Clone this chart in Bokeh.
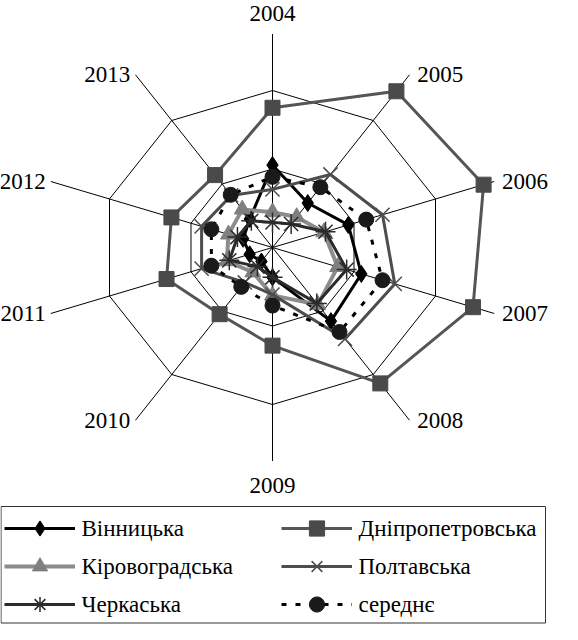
import numpy as np
from bokeh.plotting import figure
from bokeh.models import Legend, LegendItem, Range1d
from bokeh.embed import file_html
from bokeh.resources import INLINE
from bokeh.core.properties import value

# ---- data (ring spacing = 1 unit) ----
years = ["2004", "2005", "2006", "2007", "2008", "2009", "2010", "2011", "2012", "2013"]
vinnytska = [1.05, 0.70, 0.93, 1.09, 1.16, 0.38, 0.22, 0.28, 0.36, 0.45]
dnipro = [1.78, 2.46, 2.59, 2.46, 2.14, 1.25, 1.05, 1.30, 1.24, 1.14]
kirovohrad = [0.45, 0.48, 0.63, 0.80, 0.90, 0.61, 0.39, 0.56, 0.54, 0.60]
poltava = [0.74, 1.15, 1.35, 1.50, 1.44, 0.60, 0.55, 0.87, 0.87, 0.82]
cherkasy = [0.32, 0.37, 0.65, 0.91, 0.88, 0.38, 0.30, 0.53, 0.43, 0.42]
serednie = [0.90, 0.95, 1.15, 1.35, 1.33, 0.74, 0.62, 0.75, 0.75, 0.83]
rings = [1, 2]
axis_max = 2.72

names = ["Вінницька", "Дніпропетровська", "Кіровоградська", "Полтавська", "Черкаська", "середнє"]

# ---- layout ----
W, H = 562, 624
CX, CY = 272, 247          # centre in canvas pixels
SX, SY = 85.7, 78.5        # pixels per unit (x, y)
FONT = value("Liberation Serif")

def px2x(px):
    return (px - CX) / SX

def px2y(py):
    return (CY - py) / SY

p = figure(width=W, height=H, output_backend="svg", toolbar_location=None,
           x_axis_type=None, y_axis_type=None, min_border=0,
           x_range=Range1d(px2x(0), px2x(W)), y_range=Range1d(px2y(H), px2y(0)))
p.outline_line_color = None
p.background_fill_color = "white"
p.border_fill_color = "white"

n = len(years)
theta = np.arange(n) * 2 * np.pi / n
s, c = np.sin(theta), np.cos(theta)

# spokes
p.segment(x0=np.zeros(n), y0=np.zeros(n), x1=axis_max * s, y1=axis_max * c,
          line_color="black", line_width=1)
# rings
for r in rings:
    p.line(x=list(r * s) + [r * s[0]], y=list(r * c) + [r * c[0]],
           line_color="black", line_width=1)

# category labels
R = axis_max
groups = {"left": [], "right": [], "center": []}
for i, yr in enumerate(years):
    if s[i] > 0.1:
        groups["left"].append((R * s[i] + 0.09, R * c[i], yr))
    elif s[i] < -0.1:
        groups["right"].append((R * s[i] - 0.06, R * c[i], yr))
    else:
        groups["center"].append((0.0, px2y(13) if c[i] > 0 else px2y(485), yr))
for al, pts in groups.items():
    p.text(x=[q[0] for q in pts], y=[q[1] for q in pts], text=[q[2] for q in pts],
           text_align=al, text_baseline="middle", text_color="black",
           text_font=FONT, text_font_size=value("23px"))

def closed(vals):
    v = np.array(vals)
    xs = list(v * s) + [v[0] * s[0]]
    ys = list(v * c) + [v[0] * c[0]]
    return xs, ys

styles = [
    dict(vals=vinnytska, color="#000000", width=3, dash="solid", marker="diamond", size=17, mcolor="#000000"),
    dict(vals=dnipro, color="#555555", width=3, dash="solid", marker="square", size=15, mcolor="#4a4a4a"),
    dict(vals=kirovohrad, color="#8c8c8c", width=4, dash="solid", marker="triangle", size=16, mcolor="#7f7f7f"),
    dict(vals=poltava, color="#4d4d4d", width=3, dash="solid", marker="x", size=20, mcolor="#4d4d4d"),
    dict(vals=cherkasy, color="#2b2b2b", width=3, dash="solid", marker="asterisk", size=20, mcolor="#2b2b2b"),
    dict(vals=serednie, color="#000000", width=3, dash="5 9", marker="circle", size=15, mcolor="#1a1a1a"),
]

items = []
for name, st in zip(names, styles):
    xs, ys = closed(st["vals"])
    lr = p.line(x=xs, y=ys, line_color=st["color"], line_width=st["width"], line_dash=st["dash"])
    v = np.array(st["vals"])
    if st["marker"] in ("x", "asterisk"):
        sr = p.scatter(x=v * s, y=v * c, marker=st["marker"], size=st["size"],
                       line_color=st["mcolor"], line_width=1.5, fill_color=None)
    else:
        sr = p.scatter(x=v * s, y=v * c, marker=st["marker"], size=st["size"],
                       fill_color=st["mcolor"], line_color=st["mcolor"], line_width=1)
    items.append(LegendItem(label=" ", renderers=[lr, sr]))

# legend frame
p.quad(left=px2x(0.5), right=px2x(545), top=px2y(506), bottom=px2y(622.5),
       fill_color=None, line_color="#333333", line_width=1)

# legend glyph samples (Bokeh legends), labels drawn as serif text
ROW_H = 38
row_centers = [H - 1 - ROW_H * (3 - k) + ROW_H / 2 for k in range(3)]
col_x = [4, 281]
GLYPH_W = 71
STANDOFF = 6

def make_legend(its, x):
    return Legend(items=its, location=(x, 1), orientation="vertical",
                  glyph_width=GLYPH_W, glyph_height=ROW_H, label_height=ROW_H,
                  label_width=1, label_standoff=0, spacing=0, padding=0, margin=0,
                  label_text_font_size="1px", border_line_alpha=0,
                  background_fill_alpha=0)

p.add_layout(make_legend([items[0], items[2], items[4]], col_x[0]))
p.add_layout(make_legend([items[1], items[3], items[5]], col_x[1]))

lab_x, lab_y, lab_t = [], [], []
for k, name in enumerate(names):
    col, row = k % 2, k // 2
    lab_x.append(px2x(col_x[col] + GLYPH_W + STANDOFF))
    lab_y.append(px2y(row_centers[row]))
    lab_t.append(name)
p.text(x=lab_x, y=lab_y, text=lab_t, text_align="left", text_baseline="middle",
       text_color="black", text_font=FONT, text_font_size=value("23px"))

open("out.html", "w").write(file_html(p, INLINE))
